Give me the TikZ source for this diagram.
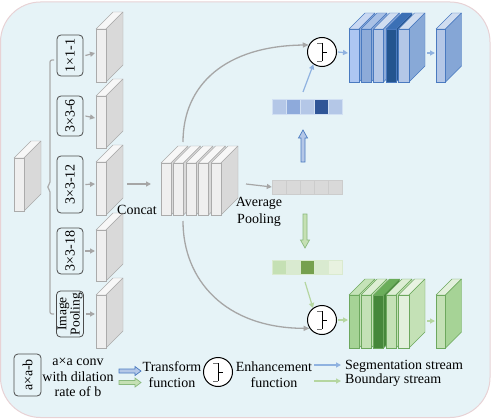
\documentclass[tikz,border=0pt]{standalone}
\usepackage{fontspec}
\setmainfont{Liberation Serif}
\usetikzlibrary{arrows.meta}
\definecolor{bg}{HTML}{E6F3F7}
\definecolor{bgline}{HTML}{E8D2D5}
\definecolor{gline}{HTML}{ABABAB}
\definecolor{gside}{HTML}{D9D9D9}
\definecolor{garr}{HTML}{A6A6A6}
\definecolor{bline}{HTML}{4A7AC0}
\definecolor{barr}{HTML}{8FB2E0}
\definecolor{grline}{HTML}{6DA85E}
\definecolor{grarr}{HTML}{B5D6A0}
\definecolor{lblue}{HTML}{B4C7E7}
\definecolor{lgreen}{HTML}{C5E0B4}
\newcommand{\slab}[8]{%
  \definecolor{sf}{HTML}{#5}\definecolor{ss}{HTML}{#6}\definecolor{st}{HTML}{#7}\definecolor{sl}{HTML}{#8}%
  \filldraw[draw=sl, fill=st, line join=round] (#1,#2) -- ++(\dd,-\dd) -- ++(#3,0) -- ++(-\dd,\dd) -- cycle;
  \filldraw[draw=sl, fill=ss, line join=round] (#1+#3,#2) -- ++(\dd,-\dd) -- ++(0,#4) -- ++(-\dd,\dd) -- cycle;
  \filldraw[draw=sl, fill=sf] (#1,#2) rectangle ++(#3,#4);
}
\tikzset{
  lbl/.style={draw=black!70, rounded corners=4pt, line width=0.8pt, inner sep=1pt, align=center},
  garrow/.style={draw=garr, line width=1.2pt, -{Triangle[length=5pt,width=5pt]}},
  barrow/.style={draw=barr, line width=1.2pt, -{Triangle[length=5pt,width=5pt]}},
  grarrow/.style={draw=grarr, line width=1.2pt, -{Triangle[length=5pt,width=5pt]}},
  curve/.style={draw=garr, line width=1.3pt, -{Triangle[length=6pt,width=5pt]}},
  enh/.style={circle, draw=black, line width=1pt, fill=white, minimum size=29pt, inner sep=0pt},
  pics/enhsym/.style={code={
    \draw[line width=0.9pt] (0,-9) -- (0,9) (0,0) -- (5,0);
    \draw[line width=0.9pt, black!55] (0,-9) -- (-5,-9) (0,9) -- (-5,9);
  }},
}
\begin{document}
\begin{tikzpicture}[x=1pt,y=-1pt, font=\fontsize{14}{16}\selectfont]
\useasboundingbox (0,0) rectangle (493,420);
\filldraw[fill=bg, draw=bgline, line width=1pt, rounded corners=40pt] (0.5,2) rectangle (490,417.5);

% ---------- input block and brace ----------
\def\dd{17}
\slab{14}{158}{10}{53}{EFEFEF}{D9D9D9}{F7F7F7}{ABABAB}
\draw[draw=gline, line width=1.2pt, rounded corners=2pt] (54,60) -- (50,60) -- (50,184) -- (47,187) -- (50,190) -- (50,314) -- (54,314);

% ---------- branch labels ----------
\node[lbl, rotate=90, minimum width=41pt, minimum height=26pt] (b1) at (70,55.5) {1×1-1};
\node[lbl, rotate=90, minimum width=40pt, minimum height=26pt] (b2) at (70,116) {3×3-6};
\node[lbl, rotate=90, minimum width=57pt, minimum height=26pt] (b3) at (70,184.5) {3×3-12};
\node[lbl, rotate=90, minimum width=46pt, minimum height=26pt] (b4) at (70,251) {3×3-18};
\node[lbl, rotate=90, minimum width=46pt, minimum height=26pt, font=\fontsize{13.5}{12}\selectfont] (b5) at (70,314) {Image\\Pooling};

% ---------- branch feature blocks ----------
\slab{96}{29}{10}{53}{EFEFEF}{D9D9D9}{F7F7F7}{ABABAB}
\slab{96}{96}{10}{52}{EFEFEF}{D9D9D9}{F7F7F7}{ABABAB}
\slab{96}{162}{10}{53}{EFEFEF}{D9D9D9}{F7F7F7}{ABABAB}
\slab{96}{230}{10}{51}{EFEFEF}{D9D9D9}{F7F7F7}{ABABAB}
\slab{96}{295}{10}{53}{EFEFEF}{D9D9D9}{F7F7F7}{ABABAB}
\coordinate (f1) at (95,53);
\coordinate (f2) at (95,118);
\coordinate (f3) at (95,184);
\coordinate (f4) at (95,251);
\coordinate (f5) at (95,314);
\foreach \i in {1,...,5}{
  \draw[garrow] (b\i.south) ++(2,0) -- (f\i);
}

% ---------- concat stack ----------
\slab{161}{163}{10}{52}{EFEFEF}{D9D9D9}{F7F7F7}{ABABAB}
\slab{173.5}{163}{10}{52}{EFEFEF}{D9D9D9}{F7F7F7}{ABABAB}
\slab{186}{163}{10}{52}{EFEFEF}{D9D9D9}{F7F7F7}{ABABAB}
\slab{198.5}{163}{10}{52}{EFEFEF}{D9D9D9}{F7F7F7}{ABABAB}
\slab{211}{163}{10}{52}{EFEFEF}{D9D9D9}{F7F7F7}{ABABAB}
\coordinate (bk3) at (127,184);
\coordinate (cin) at (151,184);
\draw[garrow] (bk3) -- (cin);
\node (concat) at (137,209.5) {Concat};
\node[align=center, font=\fontsize{14}{17}\selectfont] (avg) at (259,211.5) {Average\\Pooling};
\coordinate (cout) at (246,184);
\coordinate (cup) at (183,142);
\coordinate (cdn) at (183,221);

% ---------- pooled vector ----------
\foreach \i in {0,...,4}{
  \filldraw[fill=gside, draw=black!20, line width=0.6pt] (272+14*\i,180) rectangle ++(14,14);
}
\node[inner sep=0, minimum width=70pt, minimum height=14pt] (gv) at (307,187) {};
\draw[garrow] (cout) -- (gv.west);

% ---------- blue (segmentation) branch ----------
\foreach \c [count=\i from 0] in {B4C7E7,8EAADB,B4C7E7,2F5597,B4C7E7}{
  \definecolor{tmpc}{HTML}{\c}
  \filldraw[fill=tmpc, draw=white!60!barr, line width=0.6pt] (272+14*\i,99) rectangle ++(14,15);
}
\node[inner sep=0, minimum width=70pt, minimum height=15pt] (bv) at (307,106.5) {};
\filldraw[fill=lblue, draw=bline, line width=0.7pt] (301,162) -- (305,162) -- (305,138) -- (307.5,138) -- (303,130) -- (298.5,138) -- (301,138) -- cycle;

\node[enh] (eb) at (322,52) {};
\pic at (eb) {enhsym};
\draw[curve] (cup) .. controls (183,85) and (225,46) .. (eb.152);
\draw[barrow] (303,92) -- (eb.235);

\def\dd{16}
\slab{349}{29}{10}{53}{ADC6F2}{8DABD9}{C9D8F2}{4A7AC0}
\slab{361}{29}{10}{53}{8DABD9}{8DABD9}{A9C1E6}{4A7AC0}
\slab{373.5}{29}{10}{53}{B4C7E7}{8DABD9}{D0DDF0}{4A7AC0}
\slab{386}{29}{10}{53}{24558F}{24558F}{3B70B5}{4A7AC0}
\slab{398.5}{29}{10.5}{53}{B4C7E7}{88A9D7}{D0DDF0}{4A7AC0}
\slab{436}{29}{9.5}{53}{B4C7E7}{85A6D6}{D0DDF0}{4A7AC0}
\coordinate (bsin) at (348,53);
\coordinate (bsout) at (427,53);
\coordinate (bfin) at (435,53);
\draw[barrow] (eb.east) ++(1,0) -- (bsin);
\draw[barrow] (bsout) -- (bfin);

% ---------- green (boundary) branch ----------
\foreach \c [count=\i from 0] in {C5E0B4,D9EAD0,76A04E,D9EAD0,E8F2E0}{
  \definecolor{tmpc}{HTML}{\c}
  \filldraw[fill=tmpc, draw=white!50!grarr, line width=0.6pt] (272+14*\i,260) rectangle ++(14,14);
}
\node[inner sep=0, minimum width=70pt, minimum height=14pt] (grv) at (307,267) {};
\filldraw[fill=lgreen, draw=grline!80, line width=0.7pt] (303,214) -- (307,214) -- (307,240) -- (309.5,240) -- (305,248) -- (300.5,240) -- (303,240) -- cycle;

\node[enh] (eg) at (322,320) {};
\pic at (eg) {enhsym};
\draw[curve] (cdn) .. controls (183,280) and (225,328) .. (eg.214);
\draw[grarrow] (305,282) -- (eg.127);

\slab{349}{295}{10}{53}{A6D396}{C4E1B6}{C5E3B8}{6DA85E}
\slab{361}{295}{10}{53}{C4E1B6}{C4E1B6}{DDEED4}{6DA85E}
\slab{373.5}{295}{10}{53}{46873A}{46873A}{6AAE5A}{6DA85E}
\slab{386}{295}{10}{53}{C4E1B6}{C4E1B6}{DDEED4}{6DA85E}
\slab{398.5}{295}{10.5}{53}{E2F0DC}{C4E1B6}{E8F3E2}{6DA85E}
\slab{436}{295}{9.5}{53}{C4E1B6}{A6D396}{E2F0DC}{6DA85E}
\coordinate (gsin) at (348,320);
\coordinate (gsout) at (427,321);
\coordinate (gfin) at (435,321);
\draw[grarrow] (eg.east) ++(1,0) -- (gsin);
\draw[grarrow] (gsout) -- (gfin);

% ---------- legend ----------
\node[lbl, rotate=90, minimum width=42pt, minimum height=27pt] (lg) at (27.5,375) {a×a-b};
\node[align=center, font=\fontsize{14}{15.5}\selectfont] (lgt) at (78,377.5) {a×a conv\\with dilation\\rate of b};
\filldraw[fill=lblue, draw=bline, line width=0.7pt] (119,369) -- (135,369) -- (135,366.5) -- (141,371) -- (135,375.5) -- (135,373) -- (119,373) -- cycle;
\filldraw[fill=lgreen, draw=grline!80, line width=0.7pt] (119,380.5) -- (135,380.5) -- (135,378) -- (141,382.5) -- (135,387) -- (135,384.5) -- (119,384.5) -- cycle;
\node[align=center] (trf) at (172,375) {Transform\\function};
\node[enh] (le) at (218,372) {};
\pic at (le) {enhsym};
\node[align=center] (enf) at (274,375) {Enhancement\\function};
\coordinate (ls1) at (314,365);
\coordinate (le1) at (341,365);
\coordinate (ls2) at (314,381);
\coordinate (le2) at (341,381);
\draw[barrow] (ls1) -- (le1);
\draw[grarrow] (ls2) -- (le2);
\node[anchor=west, inner sep=0pt] (seg) at (345,366) {Segmentation stream};
\node[anchor=west, inner sep=0pt] (bnd) at (345,380) {Boundary stream};
\end{tikzpicture}
\end{document}
